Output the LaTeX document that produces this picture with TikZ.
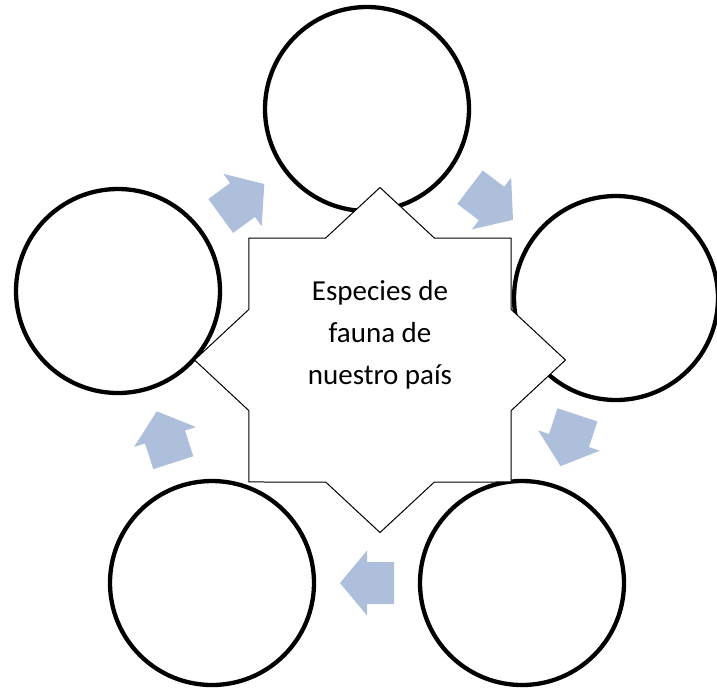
\documentclass[tikz,border=0pt]{standalone}
\usepackage{fontspec}
\setmainfont{Carlito}
\usetikzlibrary{positioning,calc}
\definecolor{accent}{RGB}{174,191,220}

\begin{document}
\begin{tikzpicture}[
    x=1pt, y=1pt,
    stage/.style={circle, draw=black, line width=4.3pt, fill=white, minimum size=204pt, inner sep=0pt},
    flow/.pic={\fill[accent] (-27,-21) -- (0,-21) -- (0,-32.5) -- (27,0) -- (0,32.5) -- (0,21) -- (-27,21) -- cycle;},
    hubtext/.style={align=center, font=\fontsize{29}{42}\selectfont}
]
    \useasboundingbox (0,0) rectangle (717,-689);

    \node[stage] (top) at (367,-109) {};
    \node[stage] (upright) at (616,-298) {};
    \node[stage] (downright) at (522,-583) {};
    \node[stage] (downleft) at (212,-583) {};
    \node[stage] (upleft) at (118,-291) {};

    \foreach \from/\to in {top/upright, upright/downright, downright/downleft, downleft/upleft, upleft/top}
        \path (\from) -- pic[midway, sloped, allow upside down]{flow} (\to);

    % central star
    \coordinate (hub) at (380,-360);
    \begin{scope}[shift={(hub)}, yscale=0.93]
        \draw[line width=1pt, fill=white] (0:185.5)
            \foreach \k in {1,...,15}{ -- (\k*22.5:{isodd(\k) ? 142 : 185.5}) } -- cycle;
    \end{scope}
    \node[hubtext] (title) at (380,-335) {Especies de\\fauna de\\nuestro país};
\end{tikzpicture}
\end{document}
